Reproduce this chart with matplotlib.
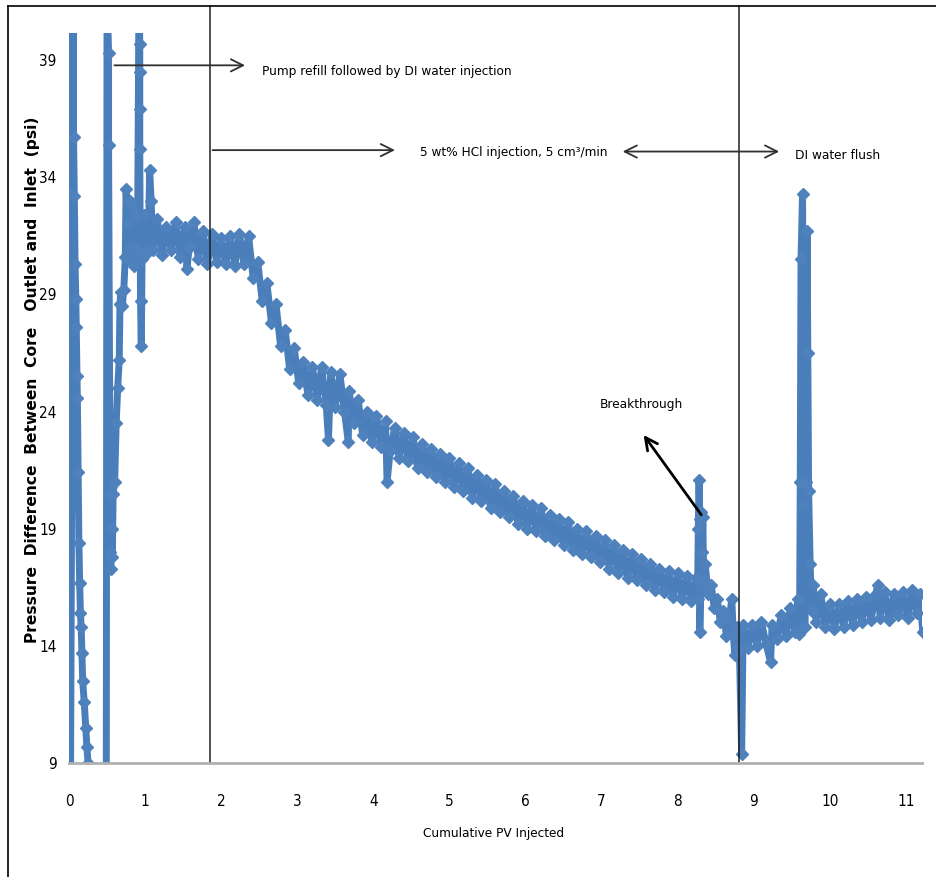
import matplotlib.pyplot as plt
from matplotlib.lines import Line2D

# Data
pv = [
    0.00, 0.01, 0.02, 0.06, 0.06, 0.07, 0.08, 0.09, 0.095, 0.105, 0.11, 0.12, 0.13, 0.14,
    0.15, 0.16, 0.17, 0.18, 0.20, 0.22, 0.235, 0.25, 0.49, 0.50, 0.52, 0.52, 0.54, 0.54,
    0.55, 0.56, 0.57, 0.58, 0.60, 0.62, 0.64, 0.66, 0.67, 0.68, 0.70, 0.72, 0.74, 0.75,
    0.77, 0.79, 0.80, 0.82, 0.84, 0.86, 0.88, 0.90, 0.92, 0.93, 0.93, 0.93, 0.93, 0.94,
    0.95, 0.96,
    0.98, 1.04, 1.06, 1.08, 1.10, 1.16, 1.22, 1.28, 1.34, 1.40, 1.46, 1.52, 1.55, 1.58,
    1.64, 1.70, 1.76, 1.82, 1.88, 1.94, 2.00, 2.06, 2.12, 2.18, 2.24, 2.30, 2.36,
    2.42, 2.48, 2.54, 2.60, 2.66, 2.72, 2.78, 2.84, 2.90, 2.96, 3.02, 3.08, 3.14, 3.20,
    3.26, 3.32, 3.38, 3.41, 3.44, 3.50, 3.56, 3.62, 3.67, 3.68, 3.74, 3.80, 3.86, 3.92,
    3.98, 4.04, 4.10, 4.16, 4.18, 4.22, 4.28, 4.34, 4.40, 4.46, 4.52, 4.58, 4.64, 4.70,
    4.76, 4.82, 4.88, 4.94, 5.00, 5.06, 5.12, 5.18, 5.24, 5.30, 5.36, 5.42, 5.48, 5.54,
    5.60, 5.66, 5.72, 5.78, 5.84, 5.90, 5.96, 6.02, 6.08, 6.14, 6.20, 6.26, 6.32, 6.38,
    6.44, 6.50, 6.56, 6.62, 6.68, 6.74, 6.80, 6.86, 6.92, 6.98, 7.04, 7.10, 7.16, 7.22,
    7.28, 7.34, 7.40, 7.46, 7.52, 7.58, 7.64, 7.70, 7.76, 7.82, 7.88, 7.94, 8.00, 8.06,
    8.12, 8.18, 8.24,
    8.26, 8.27, 8.28, 8.29, 8.29, 8.30, 8.31, 8.32, 8.33, 8.34, 8.36, 8.40, 8.44, 8.48,
    8.52, 8.56, 8.60, 8.64, 8.68, 8.71, 8.73, 8.75, 8.78, 8.81, 8.84,
    8.86, 8.92, 8.98, 9.04, 9.10, 9.16, 9.22, 9.24, 9.30, 9.36, 9.42, 9.48, 9.54, 9.58,
    9.60, 9.61, 9.62, 9.64, 9.66, 9.67, 9.69, 9.70, 9.71, 9.72, 9.74, 9.76, 9.78, 9.82,
    9.88, 9.94, 10.00, 10.06, 10.12, 10.18, 10.24, 10.30, 10.36, 10.42, 10.48, 10.54,
    10.60, 10.63, 10.66, 10.72, 10.78, 10.84, 10.90, 10.96, 11.02, 11.08, 11.14, 11.18,
    11.22,
]
dp = [
    33.3, 42.0, 8.0, 42.0, 35.7, 33.2, 30.3, 28.8, 27.6, 25.5, 24.6, 21.4, 18.4, 16.7,
    15.4, 14.8, 13.7, 12.5, 11.6, 10.5, 9.7, 9.0, 8.0, 42.0, 39.3, 35.4, 20.5, 18.0,
    17.3, 19.0, 17.8, 20.5, 21.0, 23.5, 25.0, 26.2, 28.6, 29.1, 28.5, 29.2, 30.6, 33.5,
    32.0, 30.5, 33.0, 31.0, 32.6, 30.2, 32.3, 30.9, 42.0, 39.7, 38.5, 36.9, 35.2, 28.7,
    26.8, 30.5,
    32.4, 30.8, 34.3, 33.0, 30.9, 32.2, 30.7, 31.9, 30.9, 32.1, 30.6, 31.9, 30.1, 31.0,
    32.1, 30.5, 31.7, 30.3, 31.6, 30.4, 31.4, 30.3, 31.5, 30.2, 31.6, 30.3, 31.5,
    29.7, 30.4, 28.7, 29.5, 27.8, 28.6, 26.8, 27.5, 25.8, 26.7, 25.2, 26.1, 24.7, 25.9,
    24.5, 25.9, 24.3, 22.8, 25.7, 24.2, 25.6, 24.0, 22.7, 24.9, 23.5, 24.5, 23.0, 24.0,
    22.7, 23.8, 22.5, 23.6, 21.0, 22.3, 23.3, 22.0, 23.1, 21.9, 22.9, 21.6, 22.6, 21.4,
    22.4, 21.2, 22.2, 21.0, 22.0, 20.8, 21.8, 20.6, 21.6, 20.3, 21.3, 20.2, 21.1, 19.9,
    20.9, 19.7, 20.6, 19.5, 20.4, 19.2, 20.2, 19.0, 20.0, 18.9, 19.9, 18.7, 19.6, 18.5,
    19.4, 18.3, 19.3, 18.1, 19.0, 17.9, 18.9, 17.8, 18.7, 17.6, 18.5, 17.3, 18.3, 17.1,
    18.1, 16.9, 17.9, 16.8, 17.7, 16.6, 17.5, 16.4, 17.3, 16.3, 17.2, 16.1, 17.1, 16.0,
    17.0, 15.9, 16.9,
    16.0, 19.0, 21.1, 19.4, 14.6, 16.5, 19.7, 18.0, 19.5, 16.8, 17.5, 16.2, 16.6, 15.6,
    16.0, 15.0, 15.5, 14.4, 15.2, 16.0, 14.5, 13.6, 14.8, 13.9, 9.4,
    14.9, 13.9, 14.9, 14.0, 15.0, 14.1, 13.3, 14.9, 14.3, 15.3, 14.4, 15.6, 14.6, 16.0,
    14.5, 21.0, 30.5, 33.3, 20.0, 14.8, 21.0, 31.7, 26.5, 20.6, 17.5, 15.5, 16.6, 15.0,
    16.2, 14.8, 15.8, 14.7, 15.8, 14.8, 15.9, 14.9, 16.0, 15.0, 16.1, 15.1,
    16.2, 16.6, 15.2, 16.3, 15.1, 16.2, 15.3, 16.3, 15.2, 16.4, 15.4, 16.2,
    14.6,
]

yticks = [9, 14, 19, 24, 29, 34, 39]
xticks = list(range(0, 12))
stage_lines = [1.85, 8.80]

W, H = 937, 877
fig = plt.figure(figsize=(W / 100, H / 100), dpi=100)
ax = fig.add_axes([69 / W, 1 - 763 / H, (922 - 69) / W, (763 - 33) / H])

ax.plot(pv, dp, color="#4a7ebb", lw=5, marker="D", ms=6.5,
        mfc="#4f81bd", mec="#4f81bd", solid_joinstyle="round",
        solid_capstyle="round")

ax.set_xlim(0, 11.21)
ax.set_ylim(9, 40.16)
ax.set_xticks(xticks)
ax.set_yticks(yticks)
font = dict(family="DejaVu Sans", stretch="condensed")
ax.tick_params(length=0, labelsize=11)
ax.tick_params(axis="x", pad=22)
ax.tick_params(axis="y", pad=9)
for lab in ax.get_xticklabels() + ax.get_yticklabels():
    lab.set_fontstretch("condensed")

for s in ["top", "right", "left"]:
    ax.spines[s].set_visible(False)
ax.spines["bottom"].set_color("#b0b0b0")
ax.spines["bottom"].set_linewidth(2)

# stage boundary lines, running up to the outer frame
for xv in stage_lines:
    ax.plot([xv, xv], [9, 9 + (763 - 6) / 23.43], color="#202020", lw=1.1,
            clip_on=False)

arrow = dict(arrowstyle="->", color="#303030", lw=1.3, mutation_scale=22)
ax.annotate("", xy=(2.35, 38.78), xytext=(0.56, 38.78), arrowprops=arrow,
            annotation_clip=False)
ax.text(2.54, 38.5, "Pump refill followed by DI water injection", fontsize=9.7,
        va="center", ha="left", **font)

ax.annotate("", xy=(4.32, 35.16), xytext=(1.85, 35.16), arrowprops=arrow)
ax.text(4.61, 35.07, "5 wt% HCl injection, 5 cm³/min", fontsize=9.7,
        va="center", ha="left", **font)

ax.annotate("", xy=(9.37, 35.1), xytext=(7.24, 35.1),
            arrowprops=dict(arrowstyle="<->", color="#303030", lw=1.3, mutation_scale=22))
ax.text(9.54, 34.95, "DI water flush", fontsize=9.7,
        va="center", ha="left", **font)

ax.annotate("", xy=(7.53, 23.1), xytext=(8.33, 19.5),
            arrowprops=dict(arrowstyle="->", color="black", lw=2, mutation_scale=22))
ax.text(7.52, 24.3, "Breakthrough", fontsize=9.7,
        va="center", ha="center", **font)

fig.text(494 / W, 1 - 833 / H, "Cumulative PV Injected", fontsize=9.7,
         ha="center", va="center", **font)
fig.text(33 / W, 1 - 380 / H, "Pressure  Difference  Between  Core   Outlet and  Inlet  (psi)",
         fontsize=11.2, fontweight="bold", rotation=90, ha="center", va="center")

# outer frame (left and top edges)
fig.add_artist(Line2D([8 / W, 8 / W], [0, 1 - 6 / H], color="black", lw=1.2))
fig.add_artist(Line2D([8 / W, 1], [1 - 6 / H, 1 - 6 / H], color="black", lw=1.2))

fig.savefig("out.png", dpi=100)
